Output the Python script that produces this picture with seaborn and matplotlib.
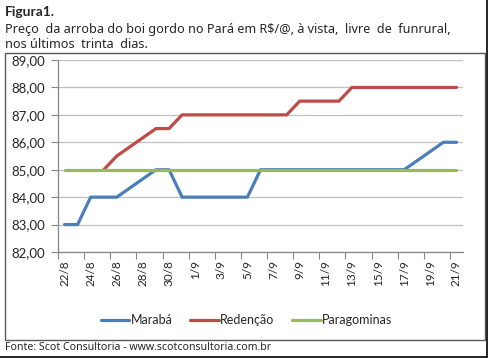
import matplotlib
matplotlib.use("Agg")
import matplotlib.pyplot as plt
from matplotlib.patches import Rectangle
from matplotlib.lines import Line2D
from matplotlib.ticker import FuncFormatter, FixedLocator
import numpy as np
import pandas as pd
import seaborn as sns

# dias do periodo (22/8 a 21/9)
dias = ['22/8', '23/8', '24/8', '25/8', '26/8', '27/8', '28/8', '29/8', '30/8', '31/8',
        '1/9', '2/9', '3/9', '4/9', '5/9', '6/9', '7/9', '8/9', '9/9', '10/9',
        '11/9', '12/9', '13/9', '14/9', '15/9', '16/9', '17/9', '18/9', '19/9', '20/9', '21/9']

# cotacoes em R$/@ (None = sem cotacao no dia)
maraba = [83, 83, 84, 84, 84, None, None, 85, 85, 84,
          84, 84, 84, 84, 84, 85, 85, 85, 85, 85,
          85, 85, 85, 85, 85, 85, 85, None, None, 86, 86]
redencao = [None, None, None, 85, 85.5, None, None, 86.5, 86.5, 87,
            87, 87, 87, 87, 87, 87, 87, 87, 87.5, 87.5,
            87.5, 87.5, 88, 88, 88, 88, 88, None, None, 88, 88]
paragominas = [85, 85, 85, 85, 85, None, None, 85, 85, 85,
               85, 85, 85, 85, 85, 85, 85, 85, 85, 85,
               85, 85, 85, 85, 85, 85, 85, None, None, 85, 85]

series = ['Marabá', 'Redenção', 'Paragominas']
cores = ['#4a7ebb', '#be4b48', '#98b954']

df = pd.DataFrame({'dia': np.arange(len(dias)), 'Marabá': maraba,
                   'Redenção': redencao, 'Paragominas': paragominas})
df = df.melt(id_vars='dia', var_name='praca', value_name='preco').dropna()

sns.set_style("white")
plt.rcParams['font.family'] = ['Noto Sans', 'DejaVu Sans']

fig = plt.figure(figsize=(4.88, 3.58), dpi=100)
W, H = 488, 358

# moldura do grafico e borda da pagina
fig.add_artist(Rectangle((5 / W, 1 - 340 / H), 480 / W, 287 / H, transform=fig.transFigure,
                         fill=False, edgecolor='#595959', linewidth=1.0))
fig.add_artist(Line2D([486.5 / W, 486.5 / W], [1, 1 - 356.5 / H], transform=fig.transFigure,
                      color='black', linewidth=1.2))
fig.add_artist(Line2D([0, 486.5 / W], [1 - 356.5 / H, 1 - 356.5 / H], transform=fig.transFigure,
                      color='black', linewidth=1.2))

ax = fig.add_axes([58 / W, 1 - 252 / H, 405 / W, 192 / H])
sns.lineplot(data=df, x='dia', y='preco', hue='praca', hue_order=series,
             palette=cores, linewidth=2.3, ax=ax, estimator=None, sort=True)

ax.set_xlim(-0.5, len(dias) - 0.5)
ax.set_ylim(82, 89)
ax.set_yticks(np.arange(82, 90, 1))
ax.yaxis.set_major_formatter(FuncFormatter(lambda v, p: f'{v:.2f}'.replace('.', ',')))
ax.grid(axis='y', color='#bfbfbf', linewidth=0.9)
ax.set_axisbelow(True)

# marcas entre categorias, rotulos no centro
ax.xaxis.set_major_locator(FixedLocator(np.arange(-0.5, len(dias) - 1, 2)))
ax.set_xticklabels([''] * len(ax.get_xticks()))
ax.set_xticks(np.arange(0, len(dias), 2), minor=True)
ax.set_xticklabels(dias[::2], minor=True, rotation=90, fontsize=8.5, family='Lato')
ax.tick_params(axis='x', which='major', length=5, color='#868686', direction='out')
ax.tick_params(axis='x', which='minor', length=0, pad=6)
ax.tick_params(axis='y', length=5, color='#868686', direction='out', labelsize=9.5, pad=4)
for lab in ax.get_yticklabels():
    lab.set_family('Lato')
ax.tick_params(axis='both', bottom=True, left=True)

for s in ['top', 'right']:
    ax.spines[s].set_visible(False)
for s in ['left', 'bottom']:
    ax.spines[s].set_color('#868686')
    ax.spines[s].set_linewidth(0.9)

ax.set_xlabel('')
ax.set_ylabel('')

leg = ax.legend(loc='center', bbox_to_anchor=(0.465, -0.354), ncol=3, frameon=False,
                handlelength=2.3, handletextpad=0.1, columnspacing=1.4,
                prop={'family': 'Lato', 'size': 9})
for h in leg.get_lines():
    h.set_linewidth(2.3)

# textos
fig.text(5 / W, 1 - 12 / H, 'Figura1.', fontsize=10, fontweight='bold', family='Lato',
         va='center', ha='left')
fig.text(5 / W, 1 - 29 / H, 'Preço  da arroba do boi gordo no Pará em R$/@, à vista,  livre  de  funrural,',
         fontsize=9.1, va='center', ha='left')
fig.text(5 / W, 1 - 44 / H, 'nos últimos  trinta  dias.', fontsize=9.1, va='center', ha='left')
fig.text(5 / W, 1 - 348 / H, 'Fonte: Scot Consultoria - www.scotconsultoria.com.br',
         fontsize=7.6, va='center', ha='left')

fig.savefig('out.png', dpi=100)
